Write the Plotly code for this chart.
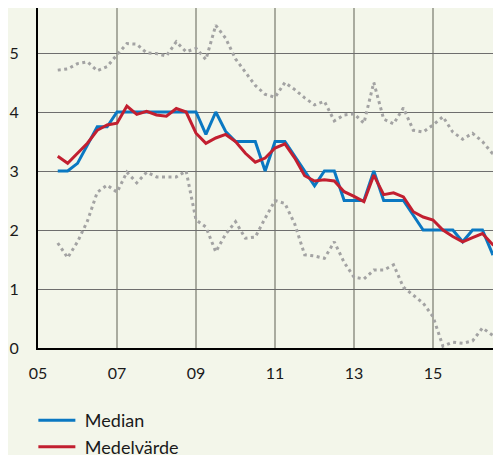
import plotly.graph_objects as go

# Quarterly observations (decimal year)
quarters = [2005.50, 2005.75, 2006.00, 2006.25, 2006.50, 2006.75, 2007.00, 2007.25,
            2007.50, 2007.75, 2008.00, 2008.25, 2008.50, 2008.75, 2009.00, 2009.25,
            2009.50, 2009.75, 2010.00, 2010.25, 2010.50, 2010.75, 2011.00, 2011.25,
            2011.50, 2011.75, 2012.00, 2012.25, 2012.50, 2012.75, 2013.00, 2013.25,
            2013.50, 2013.75, 2014.00, 2014.25, 2014.50, 2014.75, 2015.00, 2015.25,
            2015.50, 2015.75, 2016.00, 2016.25, 2016.50, 2016.75]

median = [3.0, 3.0, 3.13, 3.43, 3.75, 3.75, 4.0, 4.0,
          4.0, 4.0, 4.0, 4.0, 4.0, 4.0, 4.0, 3.62,
          4.0, 3.67, 3.5, 3.5, 3.5, 3.0, 3.5, 3.5,
          3.25, 3.0, 2.75, 3.0, 3.0, 2.5, 2.5, 2.5,
          3.0, 2.5, 2.5, 2.5, 2.25, 2.0, 2.0, 2.0,
          2.0, 1.8, 2.0, 2.0, 1.6, 1.7]

medelvarde = [3.25, 3.13, 3.3, 3.47, 3.69, 3.78, 3.81, 4.1,
              3.96, 4.01, 3.95, 3.93, 4.06, 4.0, 3.64, 3.47,
              3.56, 3.62, 3.5, 3.3, 3.15, 3.22, 3.39, 3.46,
              3.22, 2.92, 2.83, 2.85, 2.83, 2.65, 2.57, 2.48,
              2.93, 2.6, 2.63, 2.56, 2.31, 2.22, 2.17, 2.0,
              1.89, 1.8, 1.87, 1.94, 1.76, 1.63]

upper = [4.71, 4.73, 4.82, 4.85, 4.7, 4.77, 4.97, 5.16,
         5.15, 5.0, 4.99, 4.95, 5.19, 5.02, 5.08, 4.89,
         5.47, 5.25, 4.9, 4.68, 4.45, 4.3, 4.25, 4.5,
         4.38, 4.24, 4.12, 4.18, 3.85, 3.95, 3.97, 3.81,
         4.5, 3.88, 3.8, 4.07, 3.69, 3.66, 3.78, 3.92,
         3.66, 3.54, 3.64, 3.5, 3.3, 3.22]

lower = [1.78, 1.53, 1.8, 2.15, 2.64, 2.76, 2.64, 2.98,
         2.8, 2.98, 2.9, 2.9, 2.9, 3.0, 2.17, 2.05,
         1.63, 1.93, 2.14, 1.86, 1.88, 2.2, 2.5, 2.45,
         2.1, 1.58, 1.56, 1.52, 1.8, 1.45, 1.2, 1.17,
         1.32, 1.32, 1.41, 1.03, 0.9, 0.76, 0.53, 0.03,
         0.1, 0.08, 0.12, 0.34, 0.22, 0.1]

tick_years = [2005, 2007, 2009, 2011, 2013, 2015]
tick_labels = ["05", "07", "09", "11", "13", "15"]

bg = "#f3f6ea"
grey = "#a3a3a3"
blue = "#0a78c2"
red = "#c21f30"

fig = go.Figure()
for ser in (upper, lower):
    fig.add_trace(go.Scatter(x=quarters, y=ser, mode="lines",
                             line=dict(color=grey, width=3, dash="3px,3.5px"),
                             showlegend=False, hoverinfo="skip"))
fig.add_trace(go.Scatter(x=quarters, y=median, mode="lines", name="\u2005Median",
                         line=dict(color=blue, width=3)))
fig.add_trace(go.Scatter(x=quarters, y=medelvarde, mode="lines", name="\u2005Medelvärde",
                         line=dict(color=red, width=3)))

fig.update_layout(
    width=493, height=447,
    margin=dict(l=30, r=0, t=0, b=107, autoexpand=False),
    paper_bgcolor=bg, plot_bgcolor=bg,
    font=dict(family="Lato", size=16, color="#1a1a1a"),
    legend=dict(x=-0.01, y=-0.159, xanchor="left", yanchor="top",
                font=dict(size=18), itemwidth=37,
                bgcolor="rgba(0,0,0,0)"),
)
fig.update_xaxes(range=[2005, 2016.72], tickvals=tick_years, ticktext=tick_labels,
                 showgrid=True, gridcolor="#a9ab9f", gridwidth=2,
                 showline=True, linecolor="#000000", linewidth=2,
                 zeroline=False, ticks="", ticklabelstandoff=10, automargin=False)
fig.update_yaxes(range=[0, 5.763], dtick=1, tick0=0,
                 showgrid=True, gridcolor="#6e6e6e", gridwidth=1,
                 showline=True, linecolor="#000000", linewidth=2,
                 zeroline=False, ticks="", ticklabelstandoff=14, automargin=False)

fig.write_html("out.html")
